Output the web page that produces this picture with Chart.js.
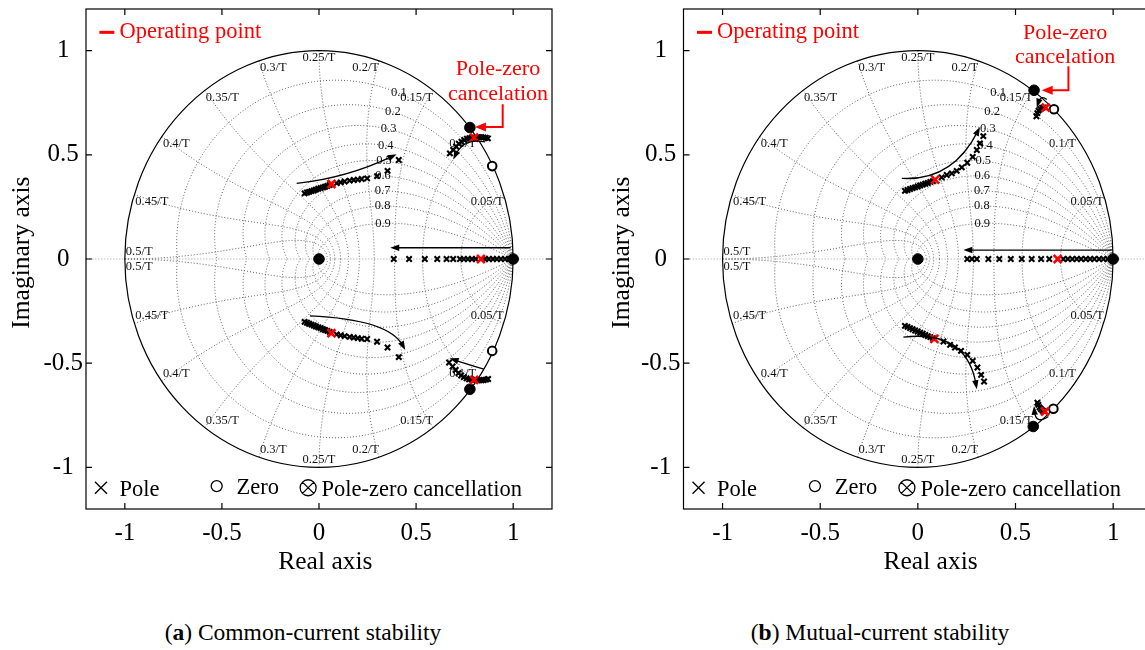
<!DOCTYPE html>
<html><head><meta charset="utf-8">
<script src="https://cdn.jsdelivr.net/npm/chart.js@4.4.0/dist/chart.umd.min.js"></script>
<style>
html,body{margin:0;padding:0;background:#fff;overflow:hidden;width:1145px;height:650px;position:relative;}
#wrapA{position:absolute;left:0;top:0;width:572px;height:600px;}
#wrapB{position:absolute;left:600px;top:0;width:600px;height:600px;}
.cap{position:absolute;top:618px;font-family:"Liberation Serif",serif;font-size:23.5px;color:#000;white-space:nowrap;transform:translateX(-50%);line-height:28px;}
</style></head><body>
<div id="wrapA"><canvas id="cA" width="572" height="600" style="width:572px;height:600px"></canvas></div>
<div id="wrapB"><canvas id="cB" width="600" height="600" style="width:600px;height:600px"></canvas></div>
<div class="cap" style="left:303px">(<b>a</b>) Common-current stability</div>
<div class="cap" style="left:880px">(<b>b</b>) Mutual-current stability</div>
<script>
// ---------- axes / grid definitions ----------
const X_TICKS = [-1, -0.5, 0, 0.5, 1];
const Y_TICKS = [-1, -0.5, 0, 0.5, 1];
const ZETA_LINES = [0.1, 0.2, 0.3, 0.4, 0.5, 0.6, 0.7, 0.8, 0.9];
const WN_LINES = [0.05, 0.1, 0.15, 0.2, 0.25, 0.3, 0.35, 0.4, 0.45, 0.5];

// ---------- (a) Common-current stability ----------
const A_REAL_POLES = [0.385,0.464,0.545,0.609,0.657,0.691,0.726,0.746,0.767,0.788,0.808,0.855,0.875,0.896,0.916,0.937,0.958,0.978];
const A_UP_RE = [-0.074,-0.062,-0.051,-0.039,-0.027,-0.016,-0.004,0.008,0.020,0.031,0.043,0.055,0.091,0.112,0.132,0.158,0.179,0.2,0.22,0.248,0.299,0.353,0.411];
const A_UP_IM = [0.315,0.319,0.322,0.326,0.329,0.333,0.337,0.340,0.344,0.347,0.351,0.355,0.364,0.368,0.372,0.376,0.379,0.381,0.384,0.387,0.398,0.423,0.475];
const A_LO_RE = [-0.074,-0.062,-0.051,-0.039,-0.027,-0.016,-0.004,0.008,0.020,0.031,0.043,0.055,0.091,0.112,0.132,0.158,0.179,0.2,0.22,0.248,0.299,0.353,0.411];
const A_LO_IM = [-0.302,-0.306,-0.311,-0.315,-0.319,-0.324,-0.328,-0.332,-0.337,-0.341,-0.345,-0.350,-0.362,-0.366,-0.370,-0.374,-0.377,-0.380,-0.383,-0.384,-0.397,-0.425,-0.471];
const A_UC_RE = [0.674,0.691,0.706,0.72,0.734,0.748,0.762,0.775,0.787,0.811,0.823,0.835,0.847,0.859,0.87];
const A_UC_IM = [0.507,0.523,0.54,0.553,0.563,0.571,0.577,0.58,0.582,0.584,0.585,0.585,0.584,0.582,0.579];
const A_LC_RE = [0.67,0.688,0.704,0.718,0.732,0.746,0.76,0.773,0.786,0.812,0.824,0.836,0.848,0.86,0.871];
const A_LC_IM = [-0.497,-0.516,-0.533,-0.548,-0.559,-0.567,-0.573,-0.577,-0.579,-0.581,-0.582,-0.582,-0.581,-0.579,-0.576];
const A_OP_RE = [0.834, 0.064, 0.064, 0.799, 0.799];
const A_OP_IM = [0, 0.36, -0.356, 0.583, -0.58];
const A_ZERO_RE = [0.892, 0.892];
const A_ZERO_IM = [0.446, -0.441];
const A_CANCEL_RE = [0, 1, 0.777, 0.777];
const A_CANCEL_IM = [0, 0, 0.631, -0.625];
// arrows: [x0,y0, cx,cy, x1,y1] (quadratic curve in data units)
const A_ARROWS = [
  [-0.115,0.363, 0.1435,0.389, 0.40,0.503],
  [-0.047,-0.273, 0.36,-0.29, 0.444,-0.437],
  [0.987,0.054, 0.677,0.054, 0.367,0.054],
  [0.855,0.562, 0.747,0.582, 0.691,0.478],
  [0.849,-0.529, 0.739,-0.4975, 0.673,-0.476]
];
const A_CANCEL_ARROW = [[0.946,0.743],[0.946,0.634],[0.803,0.634]];
const A_CANCEL_TEXT = [0.922, 0.882, 0.762];

// ---------- (b) Mutual-current stability ----------
const B_REAL_POLES = [0.253,0.277,0.302,0.361,0.417,0.476,0.532,0.583,0.631,0.673,0.745,0.768,0.791,0.814,0.836,0.86,0.882,0.904,0.928,0.95,0.972];
const B_UP_RE = [-0.066,-0.053,-0.040,-0.027,-0.014,-0.001,0.012,0.025,0.038,0.051,0.064,0.077,0.122,0.148,0.174,0.199,0.225,0.253,0.281,0.302,0.318,0.335];
const B_UP_IM = [0.327,0.331,0.336,0.340,0.344,0.348,0.353,0.357,0.361,0.365,0.370,0.374,0.392,0.403,0.411,0.423,0.44,0.462,0.49,0.523,0.555,0.590];
const B_LO_RE = [-0.066,-0.053,-0.040,-0.027,-0.014,-0.001,0.012,0.025,0.038,0.051,0.064,0.077,0.131,0.165,0.19,0.221,0.253,0.281,0.305,0.324,0.339];
const B_LO_IM = [-0.321,-0.326,-0.332,-0.337,-0.343,-0.348,-0.354,-0.359,-0.365,-0.370,-0.375,-0.380,-0.396,-0.412,-0.425,-0.441,-0.46,-0.489,-0.521,-0.556,-0.588];
const B_UC_RE = [0.607,0.612,0.618,0.626,0.636,0.646];
const B_UC_IM = [0.685,0.70,0.712,0.72,0.726,0.728];
const B_LC_RE = [0.612,0.617,0.623,0.63,0.638,0.645];
const B_LC_IM = [-0.69,-0.70,-0.712,-0.72,-0.727,-0.73];
const B_OP_RE = [0.716, 0.0886, 0.0845, 0.655, 0.651];
const B_OP_IM = [0, 0.381, -0.3835, 0.727, -0.732];
const B_ZERO_RE = [0.697, 0.694];
const B_ZERO_IM = [0.719, -0.719];
const B_CANCEL_RE = [0, 1, 0.595, 0.591];
const B_CANCEL_IM = [0, 0, 0.81, -0.804];
const B_ARROWS = [
  [-0.082,0.387, 0.178,0.3735, 0.318,0.634],
  [-0.074,-0.375, 0.25,-0.34, 0.302,-0.625],
  [0.993,0.043, 0.613,0.043, 0.233,0.043],
  [0.66,0.766, 0.63,0.79, 0.609,0.727],
  [0.668,-0.756, 0.6025,-0.7975, 0.595,-0.705]
];
const B_CANCEL_ARROW = [[0.771,0.925],[0.771,0.81],[0.634,0.81]];
const B_CANCEL_TEXT = [0.754, 1.055, 0.94];

// ---------- shared text ----------
const FONT = '"Liberation Serif","Times New Roman",serif';
const RED = '#ff0000';

function pts(re, im) { return re.map((r, i) => ({x: r, y: im[i]})); }
function P(chart, re, im) { return [chart.scales.x.getPixelForValue(re), chart.scales.y.getPixelForValue(im)]; }

const zgrid = {
  id: 'zgrid',
  beforeDatasetsDraw(chart) {
    const ctx = chart.ctx, a = chart.chartArea;
    ctx.save();
    ctx.beginPath(); ctx.rect(a.left, a.top, a.width, a.height); ctx.clip();
    const [, y0] = P(chart, 0, 0);
    ctx.lineWidth = 1;
    ctx.setLineDash([1.5, 1.5]); ctx.strokeStyle = '#bdbdbd';
    ctx.beginPath(); ctx.moveTo(a.left, y0); ctx.lineTo(a.right, y0); ctx.stroke();
    ctx.setLineDash([1, 2]); ctx.strokeStyle = '#5e5e5e';
    for (const z of ZETA_LINES) {
      const c = Math.sqrt(1 - z * z), end = Math.PI / c;
      for (const s of [1, -1]) {
        ctx.beginPath();
        for (let i = 0; i <= 240; i++) {
          const w = end * i / 240, r = Math.exp(-z * w), th = w * c;
          const [X, Y] = P(chart, r * Math.cos(th), s * r * Math.sin(th));
          i ? ctx.lineTo(X, Y) : ctx.moveTo(X, Y);
        }
        ctx.stroke();
      }
    }
    for (const f of WN_LINES) {
      const w = 2 * Math.PI * f;
      for (const s of [1, -1]) {
        ctx.beginPath();
        for (let i = 0; i <= 120; i++) {
          const z = Math.sin(Math.PI / 2 * i / 120), r = Math.exp(-z * w), th = w * Math.sqrt(Math.max(0, 1 - z * z));
          const [X, Y] = P(chart, r * Math.cos(th), s * r * Math.sin(th));
          i ? ctx.lineTo(X, Y) : ctx.moveTo(X, Y);
        }
        ctx.stroke();
      }
    }
    // unit circle
    ctx.setLineDash([]); ctx.strokeStyle = '#000'; ctx.lineWidth = 1.2;
    const [cx, cy] = P(chart, 0, 0), [x1] = P(chart, 1, 0), [, y1] = P(chart, 0, 1);
    ctx.beginPath(); ctx.ellipse(cx, cy, x1 - cx, cy - y1, 0, 0, 2 * Math.PI); ctx.stroke();
    // labels
    ctx.fillStyle = '#111';
    ctx.font = '12.5px ' + FONT;
    ctx.textAlign = 'center'; ctx.textBaseline = 'middle';
    for (const z of ZETA_LINES) {
      const w = 0.35 * Math.PI, r = Math.exp(-z * w), th = w * Math.sqrt(1 - z * z);
      const [X, Y] = P(chart, r * Math.cos(th), r * Math.sin(th));
      ctx.fillText(String(z), X, Y);
    }
    for (const f of WN_LINES) {
      const th = 2 * Math.PI * f, co = Math.cos(th);
      for (const s of [1, -1]) {
        const [X, Y] = P(chart, co, s * Math.sin(th));
        ctx.textAlign = co > 0.01 ? 'right' : (co < -0.01 ? 'left' : 'center');
        let top = s > 0; if (f === 0.5) top = !top;
        ctx.textBaseline = top ? 'top' : 'bottom';
        ctx.fillText(f + '/T', X + (co < -0.01 ? 1 : 0), Y + (top ? 1 : -1));
      }
    }
    ctx.restore();
  }
};

function arrowHead(ctx, tx, ty, ang, len, wid) {
  ctx.beginPath();
  ctx.moveTo(tx, ty);
  ctx.lineTo(tx - len * Math.cos(ang) + wid * Math.sin(ang), ty - len * Math.sin(ang) - wid * Math.cos(ang));
  ctx.lineTo(tx - len * Math.cos(ang) - wid * Math.sin(ang), ty - len * Math.sin(ang) + wid * Math.cos(ang));
  ctx.closePath(); ctx.fill();
}

const annot = {
  id: 'annot',
  afterDatasetsDraw(chart) {
    const ctx = chart.ctx, a = chart.chartArea, d = chart.options.plugins.annot;
    ctx.save();
    // black arrows
    ctx.strokeStyle = '#000'; ctx.fillStyle = '#000'; ctx.lineWidth = 1.3;
    for (const ar of d.arrows) {
      const [X0, Y0] = P(chart, ar[0], ar[1]), [CX, CY] = P(chart, ar[2], ar[3]), [X1, Y1] = P(chart, ar[4], ar[5]);
      const ang = Math.atan2(Y1 - CY, X1 - CX);
      ctx.beginPath(); ctx.moveTo(X0, Y0);
      ctx.quadraticCurveTo(CX, CY, X1 - 5 * Math.cos(ang), Y1 - 5 * Math.sin(ang)); ctx.stroke();
      arrowHead(ctx, X1, Y1, ang, 9, 3.2);
    }
    // red cancellation arrow
    ctx.strokeStyle = RED; ctx.fillStyle = RED; ctx.lineWidth = 2;
    const pp = d.cancelArrow.map(p => P(chart, p[0], p[1]));
    const n = pp.length, ang = Math.atan2(pp[n-1][1] - pp[n-2][1], pp[n-1][0] - pp[n-2][0]);
    ctx.beginPath(); ctx.moveTo(pp[0][0], pp[0][1]);
    for (let i = 1; i < n - 1; i++) ctx.lineTo(pp[i][0], pp[i][1]);
    ctx.lineTo(pp[n-1][0] - 6 * Math.cos(ang), pp[n-1][1] - 6 * Math.sin(ang)); ctx.stroke();
    arrowHead(ctx, pp[n-1][0], pp[n-1][1], ang, 11, 4.5);
    ctx.font = '22px ' + FONT; ctx.textAlign = 'center'; ctx.textBaseline = 'alphabetic';
    let [tx, ty] = P(chart, d.cancelText[0], d.cancelText[1]); ctx.fillText('Pole-zero', tx, ty);
    [tx, ty] = P(chart, d.cancelText[0], d.cancelText[2]); ctx.fillText('cancelation', tx, ty);
    // operating point legend
    ctx.lineWidth = 3;
    let [lx0, ly] = P(chart, -1.131, 1.088), [lx1] = P(chart, -1.054, 1.088);
    ctx.beginPath(); ctx.moveTo(lx0, ly); ctx.lineTo(lx1, ly); ctx.stroke();
    ctx.textAlign = 'left';
    [tx, ty] = P(chart, -1.028, 1.059); ctx.font = '22.5px ' + FONT; ctx.fillText('Operating point', tx, ty);
    // bottom legend
    ctx.fillStyle = '#000'; ctx.strokeStyle = '#000'; ctx.lineWidth = 1.3;
    let [sx, sy] = P(chart, -1.123, -1.098);
    ctx.beginPath(); ctx.moveTo(sx - 6, sy - 6); ctx.lineTo(sx + 6, sy + 6); ctx.moveTo(sx + 6, sy - 6); ctx.lineTo(sx - 6, sy + 6); ctx.stroke();
    [tx, ty] = P(chart, -1.028, -1.138); ctx.fillText('Pole', tx, ty);
    [sx, sy] = P(chart, -0.527, -1.09);
    ctx.beginPath(); ctx.arc(sx, sy, 5.5, 0, 2 * Math.PI); ctx.stroke();
    [tx, ty] = P(chart, -0.425, -1.128); ctx.fillText('Zero', tx, ty);
    [sx, sy] = P(chart, -0.056, -1.098);
    ctx.beginPath(); ctx.arc(sx, sy, 8, 0, 2 * Math.PI);
    const k = 8 * Math.SQRT1_2;
    ctx.moveTo(sx - k, sy - k); ctx.lineTo(sx + k, sy + k); ctx.moveTo(sx + k, sy - k); ctx.lineTo(sx - k, sy + k); ctx.stroke();
    [tx, ty] = P(chart, 0.013, -1.138); ctx.fillText('Pole-zero cancellation', tx, ty);
    ctx.restore();
  },
  afterDraw(chart) {
    const ctx = chart.ctx, a = chart.chartArea;
    ctx.save();
    ctx.strokeStyle = '#000'; ctx.lineWidth = 1.2;
    ctx.strokeRect(a.left, a.top, a.width, a.height);
    ctx.beginPath();
    for (const v of X_TICKS) {
      const X = chart.scales.x.getPixelForValue(v);
      ctx.moveTo(X, a.bottom); ctx.lineTo(X, a.bottom - 6);
      ctx.moveTo(X, a.top); ctx.lineTo(X, a.top + 6);
    }
    for (const v of Y_TICKS) {
      const Y = chart.scales.y.getPixelForValue(v);
      ctx.moveTo(a.left, Y); ctx.lineTo(a.left + 6, Y);
      ctx.moveTo(a.right, Y); ctx.lineTo(a.right - 6, Y);
    }
    ctx.stroke();
    ctx.restore();
  }
};

function poleSet(re, im) {
  return {data: pts(re, im), pointStyle: 'crossRot', pointRadius: 3.8, pointBorderWidth: 2.1, pointBorderColor: '#000', pointBackgroundColor: '#000', showLine: false, order: 3};
}

function makeChart(id, d) {
  return new Chart(document.getElementById(id), {
    type: 'scatter',
    data: {datasets: [
      {data: pts(d.opRe, d.opIm), pointStyle: 'crossRot', pointRadius: 5.6, pointBorderWidth: 2.6, pointBorderColor: RED, showLine: false, order: 0},
      {data: pts(d.cancelRe, d.cancelIm), pointStyle: 'circle', pointRadius: 5.3, pointBorderWidth: 1, pointBorderColor: '#000', pointBackgroundColor: '#000', showLine: false, order: 1},
      {data: pts(d.zeroRe, d.zeroIm), pointStyle: 'circle', pointRadius: 4.3, pointBorderWidth: 2, pointBorderColor: '#000', pointBackgroundColor: '#fff', showLine: false, order: 2},
      poleSet(d.realPoles, d.realPoles.map(() => 0)),
      poleSet(d.upRe, d.upIm), poleSet(d.loRe, d.loIm),
      poleSet(d.ucRe, d.ucIm), poleSet(d.lcRe, d.lcIm)
    ]},
    options: {
      responsive: false, animation: false, events: [],
      layout: {padding: {top: 9, right: d.padRight, left: 0, bottom: 0}},
      plugins: {legend: {display: false}, tooltip: {enabled: false},
        annot: {arrows: d.arrows, cancelArrow: d.cancelArrow, cancelText: d.cancelText}},
      scales: {
        x: {type: 'linear', min: -1.2, max: 1.2, position: 'bottom',
          afterBuildTicks: s => { s.ticks = X_TICKS.map(v => ({value: v})); },
          ticks: {color: '#000', font: {family: FONT, size: 25}, padding: 9, maxRotation: 0, autoSkip: false, callback: v => String(v)},
          grid: {display: false, drawTicks: false}, border: {display: false},
          title: {display: true, text: d.xTitle, color: '#000', font: {family: FONT, size: 25.5}, padding: {top: 0, bottom: 22}},
          afterFit: s => { s.height = 91; s.paddingLeft = 0; s.paddingRight = 0; }},
        y: {type: 'linear', min: -1.2, max: 1.2, position: 'left',
          afterBuildTicks: s => { s.ticks = Y_TICKS.map(v => ({value: v})); },
          ticks: {color: '#000', font: {family: FONT, size: 25}, padding: 3, crossAlign: 'center', autoSkip: false, callback: v => String(v)},
          grid: {display: false, drawTicks: false}, border: {display: false},
          title: {display: true, text: '\u2002Imaginary axis', color: '#000', font: {family: FONT, size: 25.5}, padding: {top: 7, bottom: 0}},
          afterFit: s => { s.width = d.yWidth; s.paddingTop = 0; s.paddingBottom = 0; }}
      }
    },
    plugins: [zgrid, annot]
  });
}

makeChart('cA', {
  realPoles: A_REAL_POLES, upRe: A_UP_RE, upIm: A_UP_IM, loRe: A_LO_RE, loIm: A_LO_IM,
  ucRe: A_UC_RE, ucIm: A_UC_IM, lcRe: A_LC_RE, lcIm: A_LC_IM,
  opRe: A_OP_RE, opIm: A_OP_IM, zeroRe: A_ZERO_RE, zeroIm: A_ZERO_IM, cancelRe: A_CANCEL_RE, cancelIm: A_CANCEL_IM,
  arrows: A_ARROWS, cancelArrow: A_CANCEL_ARROW, cancelText: A_CANCEL_TEXT,
  padRight: 20, yWidth: 86, xTitle: '\u2002Real axis'
});
makeChart('cB', {
  realPoles: B_REAL_POLES, upRe: B_UP_RE, upIm: B_UP_IM, loRe: B_LO_RE, loIm: B_LO_IM,
  ucRe: B_UC_RE, ucIm: B_UC_IM, lcRe: B_LC_RE, lcIm: B_LC_IM,
  opRe: B_OP_RE, opIm: B_OP_IM, zeroRe: B_ZERO_RE, zeroIm: B_ZERO_IM, cancelRe: B_CANCEL_RE, cancelIm: B_CANCEL_IM,
  arrows: B_ARROWS, cancelArrow: B_CANCEL_ARROW, cancelText: B_CANCEL_TEXT,
  padRight: 47.8, yWidth: 83.5, xTitle: '\u2002\u2002Real axis'
});
</script>
</body></html>
